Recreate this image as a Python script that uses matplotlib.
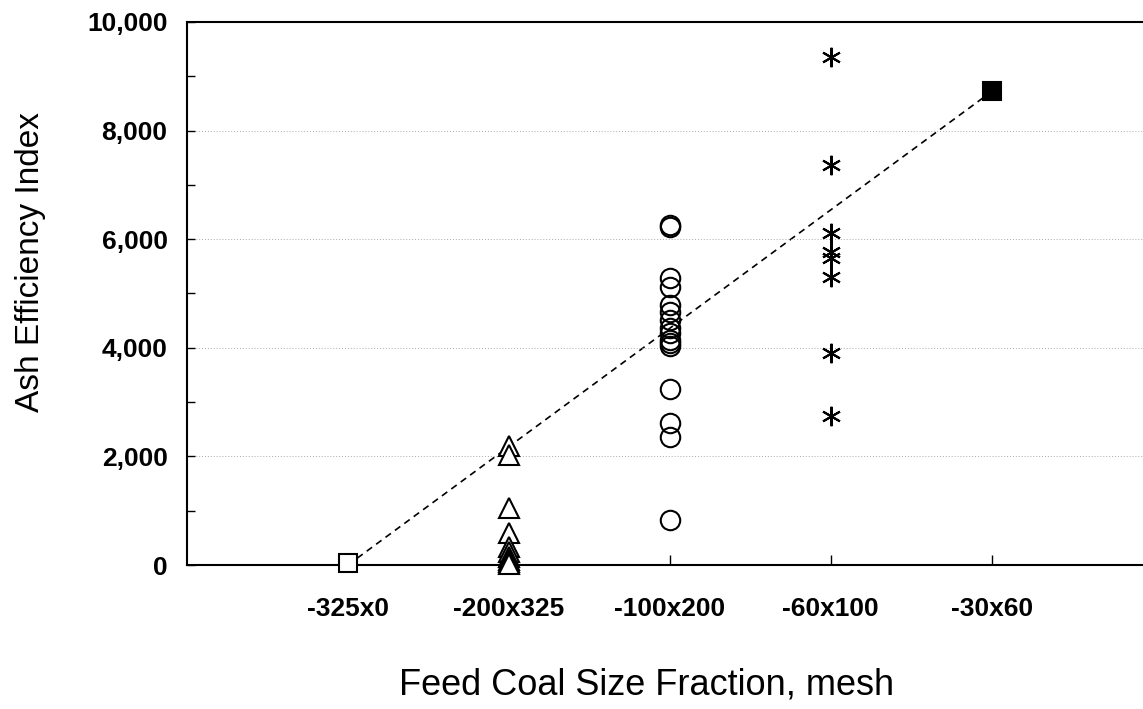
import matplotlib.pyplot as plt
from matplotlib.ticker import FuncFormatter, MultipleLocator

# Feed coal size fractions (mesh)
sizes = ["-325x0", "-200x325", "-100x200", "-60x100", "-30x60"]

# Ash efficiency index, one list per size fraction
aei_325x0 = [30]
aei_200x325 = [2200, 2030, 1050, 590, 330, 240, 150, 90, 50, 10]
aei_100x200 = [6270, 6220, 5290, 5120, 4790, 4660, 4510, 4360, 4270, 4140,
               4090, 4030, 3240, 2610, 2360, 830]
aei_60x100 = [9360, 7370, 6120, 5760, 5650, 5300, 3910, 2740]
aei_30x60 = [8720]

# dashed trend line end points
trend_x = [1, 5]
trend_y = [0, 8720]

plt.rcParams['font.family'] = ['Liberation Sans', 'DejaVu Sans']

fig = plt.figure(figsize=(11.43, 7.09), dpi=100)
ax = fig.add_axes([0.1636, 0.2031, 0.8364, 0.7659])

ax.plot(trend_x, trend_y, ls=(0, (4, 3)), color='black', lw=1.2, zorder=1)

mk = dict(color='black', ls='none', mew=1.5, zorder=3, clip_on=False)
ax.plot([1] * len(aei_325x0), aei_325x0, marker='s', ms=13, mfc='white', **mk)
ax.plot([2] * len(aei_200x325), aei_200x325, marker='^', ms=14, mfc='white', **mk)
ax.plot([3] * len(aei_100x200), aei_100x200, marker='o', ms=14, mfc='none', **mk)
ax.plot([4] * len(aei_60x100), aei_60x100, marker=(6, 2, 0), ms=14, **mk)
ax.plot([5] * len(aei_30x60), aei_30x60, marker='s', ms=13, mfc='black', **mk)

tick_font = dict(family='Liberation Sans', size=19, weight='bold')

ax.set_xlim(0, 5.94)
ax.set_ylim(0, 10000)
ax.set_xticks(range(1, len(sizes) + 1))
ax.set_xticklabels(sizes, **tick_font)
ax.yaxis.set_major_locator(MultipleLocator(2000))
ax.yaxis.set_minor_locator(MultipleLocator(1000))
ax.yaxis.set_major_formatter(FuncFormatter(lambda v, p: f"{int(v):,}"))
for lab in ax.get_yticklabels():
    lab.set_fontproperties(tick_font)

ax.tick_params(axis='both', which='both', direction='in', color='black')
ax.tick_params(axis='y', which='major', length=6, width=1, pad=14)
ax.tick_params(axis='y', which='minor', length=6, width=1)
ax.tick_params(axis='x', which='major', length=7, width=1, pad=23)

ax.grid(axis='y', which='major', ls=(0, (1, 2)), color='#aaaaaa', lw=0.7)
ax.spines['right'].set_visible(False)
for s in ['left', 'top', 'bottom']:
    ax.spines[s].set_linewidth(1.5)

ax.set_xlabel("Feed Coal Size Fraction, mesh", fontsize=26)
ax.set_ylabel("Ash Efficiency Index", fontsize=24)
ax.xaxis.set_label_coords(0.481, -0.188)
ax.yaxis.set_label_coords(-0.148, 0.558)

fig.savefig("out.png", dpi=100)
